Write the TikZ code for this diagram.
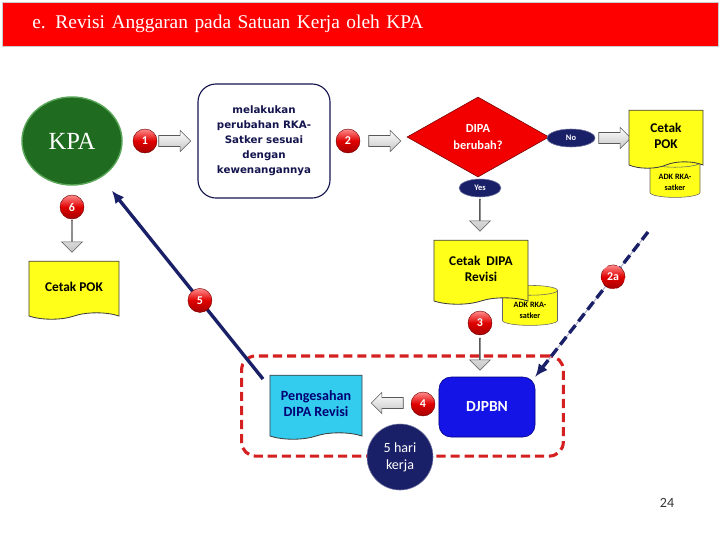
\documentclass[tikz,border=0pt]{standalone}
\usepackage{fontspec}
\setmainfont{Carlito}
\newfontfamily\timesfont{Liberation Serif}
\newfontfamily\widefont{DejaVu Sans}
\usetikzlibrary{arrows.meta, positioning, shapes.geometric, shapes.symbols, shapes.arrows, calc, fit, shadings}
\definecolor{TitleRed}{HTML}{FF0000}
\definecolor{KpaGreen}{HTML}{1F6B1F}
\definecolor{BadgeRed}{HTML}{E00000}
\definecolor{Navy}{HTML}{1A2068}
\definecolor{TextNavy}{HTML}{14144E}
\definecolor{DocYellow}{HTML}{FFFF1A}
\definecolor{DocCyan}{HTML}{33CCEE}
\definecolor{DjpBlue}{HTML}{1414E6}
\definecolor{BoxRed}{HTML}{D42020}

\tikzset{
    titlebar/.style={rectangle, fill=TitleRed, draw=black!20, anchor=north west, minimum height=1.1cm,
        text width=16.4cm, inner xsep=0.75cm, align=left, text=white, font=\timesfont\fontsize{13.8}{15}\selectfont},
    badge/.style={circle, top color=red!45!white, bottom color=red!65!black, middle color=BadgeRed,
        draw=red!45!black, line width=0.3pt, text=white, font=\bfseries\fontsize{8.5}{9}\selectfont,
        minimum size=0.6cm, inner sep=0pt},
    hollow/.style={single arrow, draw=gray!70!black, top color=white, bottom color=gray!45,
        minimum height=0.8cm, minimum width=0.52cm, single arrow head extend=0.13cm,
        inner xsep=0pt, inner ysep=0.13cm},
    doc/.style={tape, tape bend top=none, tape bend height=0.16cm, draw=black!75, line width=0.6pt,
        align=center, font=\bfseries\fontsize{9.5}{11}\selectfont},
    cyl/.style={cylinder, shape border rotate=90, aspect=0.3, draw=black!60, fill=DocYellow,
        align=center, inner sep=0pt, font=\bfseries\fontsize{5.8}{7.2}\selectfont},
    answer/.style={ellipse, fill=Navy, draw=Navy!60, text=white, inner sep=0pt,
        font=\bfseries\fontsize{6}{7}\selectfont},
    conn/.style={draw=Navy, line width=2.4pt, -{Latex[length=9pt,width=8pt]}},
}

\begin{document}
\begin{tikzpicture}[x=0.025cm, y=-0.025cm]
    \useasboundingbox (0,0) rectangle (720,540);

    % Title
    \node[titlebar] (title) at (2,2) {e. Revisi Anggaran pada Satuan Kerja oleh KPA};

    % Top row
    \node[ellipse, minimum width=2.5cm, minimum height=2.2cm, fill=KpaGreen, draw=green!30!gray,
        line width=1pt, text=white, font=\timesfont\fontsize{17.5}{19}\selectfont] (kpa) at (72,141) {KPA};
    \node[badge] (b1) at (145,141) {1};
    \node[hollow] (a1) at (172,141) {};
    \node[rectangle, rounded corners=0.45cm, draw=TextNavy, line width=0.8pt, minimum width=3.3cm,
        minimum height=2.85cm, align=center, text=TextNavy, font=\widefont\bfseries\fontsize{7.3}{10.6}\selectfont]
        (ubah) at (264,141) {melakukan\\perubahan RKA-\\Satker sesuai\\dengan\\kewenangannya};
    \node[badge] (b2) at (348,141) {2};
    \node[hollow] (a2) at (382,141) {};
    \node[diamond, minimum width=3.55cm, minimum height=2cm, inner sep=0pt, fill=red!95!black,
        draw=red!45!black, align=center, text=white, font=\bfseries\fontsize{8.8}{11.5}\selectfont]
        (dipa) at (478,137) {DIPA\\berubah?};
    \node[answer, minimum width=1.2cm, minimum height=0.45cm] (no) at (571,138) {No};
    \node[hollow] (a3) at (612,138) {};
    \node[cyl, minimum width=1.25cm, minimum height=1cm] (adkr) at (675,180) {\\ADK RKA-\\satker};
    \node[doc, fill=DocYellow, minimum width=1.85cm, minimum height=1.45cm] (pokr) at (666,136) {Cetak\\POK};

    % Middle column
    \node[answer, minimum width=1.05cm, minimum height=0.45cm] (yes) at (480,188) {Yes};
    \node[hollow, shape border rotate=270] (a4) at (480,215) {};
    \node[cyl, minimum width=1.375cm, minimum height=1cm] (adkm) at (530,308) {\\ADK RKA-\\satker};
    \node[doc, fill=DocYellow, minimum width=2.35cm, minimum height=1.6cm] (cdipa) at (481,269)
        {Cetak~~DIPA\\Revisi};
    \node[badge] (b3) at (480,323) {3};
    \node[hollow, shape border rotate=270] (a5) at (480,354) {};

    % Bottom group
    \node[rectangle, rounded corners=0.3cm, fill=DjpBlue, draw=blue!50!black, minimum width=2.4cm,
        minimum height=1.5cm, text=white, font=\bfseries\fontsize{11}{13}\selectfont] (djpbn) at (487,407) {DJPBN};
    \node[doc, fill=DocCyan, text=blue!45!black, minimum width=2.3cm, minimum height=1.6cm,
        font=\bfseries\fontsize{10}{11.5}\selectfont] (sah) at (316,404) {Pengesahan\\DIPA Revisi};
    \node[badge] (b4) at (423,404) {4};
    \node[hollow, shape border rotate=180] (a6) at (390,403) {};
    \node[draw=BoxRed, line width=2.2pt, dash pattern=on 6.5pt off 3.5pt, rounded corners=0.35cm,
        inner xsep=0.7cm, inner ysep=0.47cm, fit=(sah)(djpbn)] (grp) {};
    \node[circle, fill=Navy, draw=Navy!60, minimum size=1.65cm, inner sep=0pt, align=center,
        text=white, font=\fontsize{10}{12}\selectfont] (hari) at (400,457) {5 hari\\kerja};

    % Left column
    \node[badge] (b6) at (72,207) {6};
    \node[hollow, shape border rotate=270] (a7) at (72,236) {};
    \node[doc, fill=DocYellow, minimum width=2.25cm, minimum height=1.45cm] (pokl) at (74,287) {Cetak POK};

    % Return lines
    \coordinate (c5) at (263,379);
    \draw[conn, shorten >=0.42cm] (c5) -- (kpa) node[badge, pos=0.39] (b5) {5};
    \coordinate (c2a) at (648,232);
    \draw[conn, dash pattern=on 7pt off 3.5pt, preaction={draw=Navy!35, line width=0.7pt, solid, -}]
        (c2a) -- (djpbn.north east) node[badge, pos=0.31] (b2a) {2a};

    % Page number
    \node[text=black!80, font=\fontsize{10}{12}\selectfont] (page) at (667,503) {24};
\end{tikzpicture}
\end{document}
